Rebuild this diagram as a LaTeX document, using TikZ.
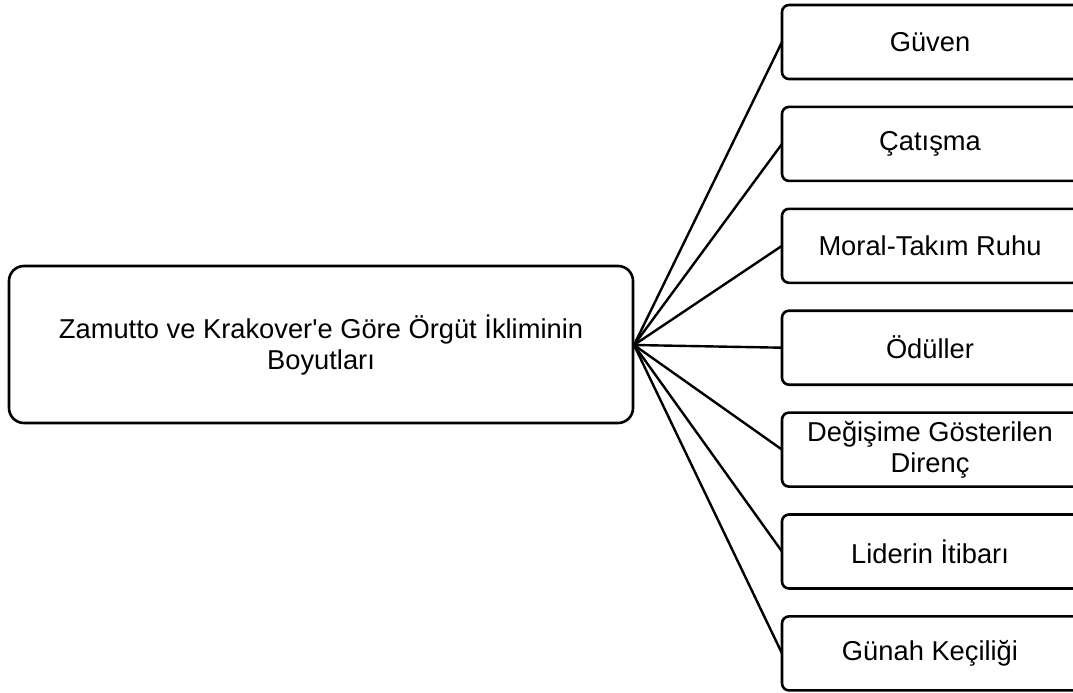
\documentclass[tikz,border=0pt]{standalone}
\usepackage{fontspec}
\newfontfamily\lsans{Liberation Sans}
\begin{document}
\begin{tikzpicture}[x=1pt,y=-1pt,
  hubbox/.style={draw=black,line width=2.6pt,rounded corners=15pt,fill=white},
  leafbox/.style={draw=black,line width=2.6pt,rounded corners=7pt,fill=white},
  link/.style={draw=black,line width=2.4pt},
  lbl/.style={align=center,font=\lsans\fontsize{27.3}{31}\selectfont,inner sep=0pt}]
\useasboundingbox (0,0) rectangle (1073,693);
\clip (0,0) rectangle (1073,693);
% central box
\draw[hubbox] (9,266) rectangle (633,423);
\node[lbl] (hub) at (321,344.5) {Zamutto ve Krakover'e Göre Örgüt İkliminin\\Boyutları};
\coordinate (h) at (634,345);
% leaf boxes
\foreach \i/\t/\n in {0/Güven/a,1/Çatışma/b,2/Moral-Takım Ruhu/c,3/Ödüller/d,4/{Değişime Gösterilen\\Direnç}/e,5/Liderin İtibarı/f,6/Günah Keçiliği/g}{
  \pgfmathsetmacro{\top}{5+101.9*\i}
  \draw[leafbox] (782,\top) rectangle (1080,\top+74);
  \coordinate (\n) at (782,\top+37);
  \node[lbl] (t\n) at (930,\top+37) {\t};
}
\foreach \n in {a,b,c,d,e,f,g}{
  \draw[link] (h) -- (\n);
}
\end{tikzpicture}
\end{document}
